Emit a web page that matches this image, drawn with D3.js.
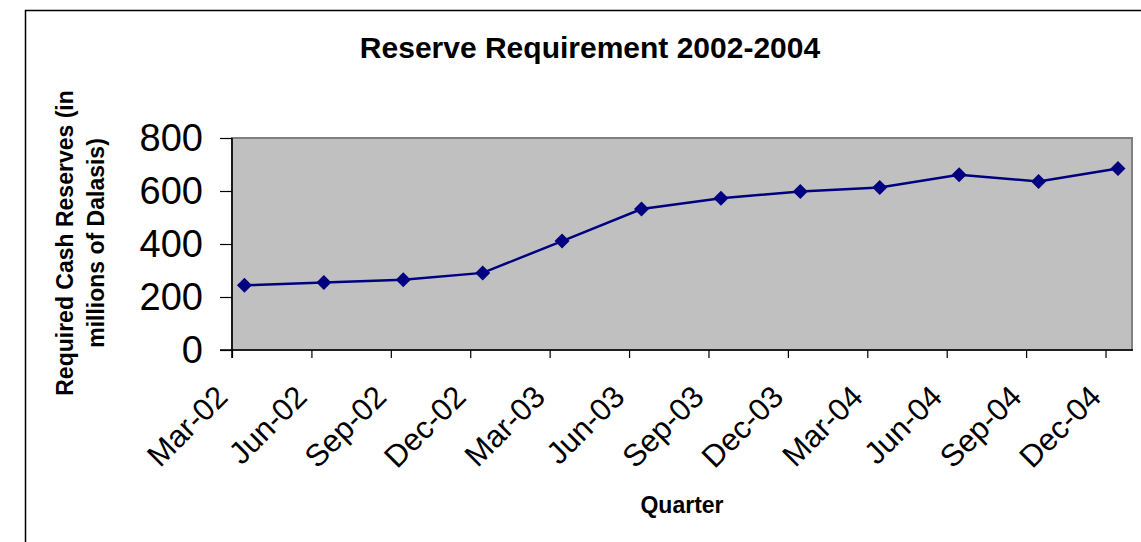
<!DOCTYPE html>
<html>
<head>
<meta charset="utf-8">
<script src="https://cdn.jsdelivr.net/npm/d3@7"></script>
<style>
  html, body { margin: 0; padding: 0; background: #fff; }
  svg { display: block; font-family: "Liberation Sans", Arial, sans-serif; }
</style>
</head>
<body>
<svg id="chart" width="1141" height="542"></svg>
<script>
// Quarter labels and their month offset from March 2002
const quarters = ["Mar-02", "Jun-02", "Sep-02", "Dec-02", "Mar-03", "Jun-03",
                  "Sep-03", "Dec-03", "Mar-04", "Jun-04", "Sep-04", "Dec-04"];
const monthIndex = [0, 3, 6, 9, 12, 15, 18, 21, 24, 27, 30, 33];
// Required cash reserves, millions of Dalasis
const reserves = [244, 255, 265, 291, 411, 532, 573, 598, 613, 661, 636, 685];
const yTicks = [0, 200, 400, 600, 800];

const svg = d3.select("#chart");
const plot = { left: 232, right: 1132, top: 138, bottom: 350 };

// Date axis measured in months: Mar-02 through the end of Dec-04
const x = d3.scaleLinear().domain([0, 34]).range([plot.left, plot.right]);
const y = d3.scaleLinear().domain([0, 800]).range([plot.bottom, plot.top]);
// Each value is dated mid-month
const midMonth = 0.47;

// Outer chart frame
svg.append("path")
  .attr("d", "M25.5,542 V10.5 H1141")
  .attr("fill", "none").attr("stroke", "#000").attr("stroke-width", 1.5);

// Plot area
svg.append("rect")
  .attr("x", plot.left).attr("y", plot.top)
  .attr("width", plot.right - plot.left).attr("height", plot.bottom - plot.top)
  .attr("fill", "#c0c0c0").attr("stroke", "#808080").attr("stroke-width", 2);

// Y axis
const yAxis = svg.append("g")
  .attr("transform", `translate(${plot.left},0)`)
  .call(d3.axisLeft(y).tickValues(yTicks).tickSize(12).tickPadding(17).tickFormat(d3.format("d")));
yAxis.select(".domain").remove();
yAxis.selectAll(".tick line").attr("stroke", "#000").attr("stroke-width", 1.2);
yAxis.selectAll(".tick text")
  .attr("font-size", 38).attr("fill", "#000")
  .attr("font-family", "'Liberation Sans', Arial, sans-serif");

// X axis
const xAxis = svg.append("g")
  .attr("transform", `translate(0,${plot.bottom})`)
  .call(d3.axisBottom(x).tickValues(monthIndex).tickSize(8).tickFormat((d, i) => quarters[i]));
xAxis.select(".domain").remove();
xAxis.selectAll(".tick line").attr("stroke", "#000").attr("stroke-width", 1.2);
xAxis.selectAll(".tick text")
  .attr("font-size", 31).attr("fill", "#000")
  .attr("font-family", "'Liberation Sans', Arial, sans-serif")
  .attr("text-anchor", "end")
  .attr("dy", null).attr("y", 0)
  .attr("transform", "translate(-19,33) rotate(-45)")
  .attr("dominant-baseline", "hanging");

// Axis lines drawn over the plot border
svg.append("line")
  .attr("x1", plot.left).attr("x2", plot.left)
  .attr("y1", plot.top).attr("y2", plot.bottom + 8)
  .attr("stroke", "#000").attr("stroke-width", 1.6);
svg.append("line")
  .attr("x1", plot.left - 12).attr("x2", plot.right + 1)
  .attr("y1", plot.bottom).attr("y2", plot.bottom)
  .attr("stroke", "#000").attr("stroke-width", 1.6);

// Series line
const pts = reserves.map((v, i) => ({ m: monthIndex[i] + midMonth, v }));
svg.append("path")
  .datum(pts)
  .attr("fill", "none").attr("stroke", "#000080").attr("stroke-width", 2.5)
  .attr("d", d3.line().x(d => x(d.m)).y(d => y(d.v)));

// Diamond markers
svg.append("g").selectAll("path")
  .data(pts).join("path")
  .attr("transform", d => `translate(${x(d.m)},${y(d.v)})`)
  .attr("d", "M0,-7.5 L7.5,0 L0,7.5 L-7.5,0 Z")
  .attr("fill", "#000080");

// Titles
svg.append("text")
  .attr("x", 590).attr("y", 58)
  .attr("text-anchor", "middle").attr("font-size", 30).attr("font-weight", "bold")
  .text("Reserve Requirement 2002-2004");

svg.append("text")
  .attr("x", 682).attr("y", 513)
  .attr("text-anchor", "middle").attr("font-size", 23).attr("font-weight", "bold")
  .text("Quarter");

const yTitle = svg.append("text")
  .attr("transform", "translate(73,243) rotate(-90)")
  .attr("text-anchor", "middle").attr("font-size", 23).attr("font-weight", "bold");
yTitle.append("tspan").attr("x", 0).attr("y", 0).text("Required Cash Reserves (in");
yTitle.append("tspan").attr("x", 0).attr("y", 31).text("millions of Dalasis)");
</script>
</body>
</html>
